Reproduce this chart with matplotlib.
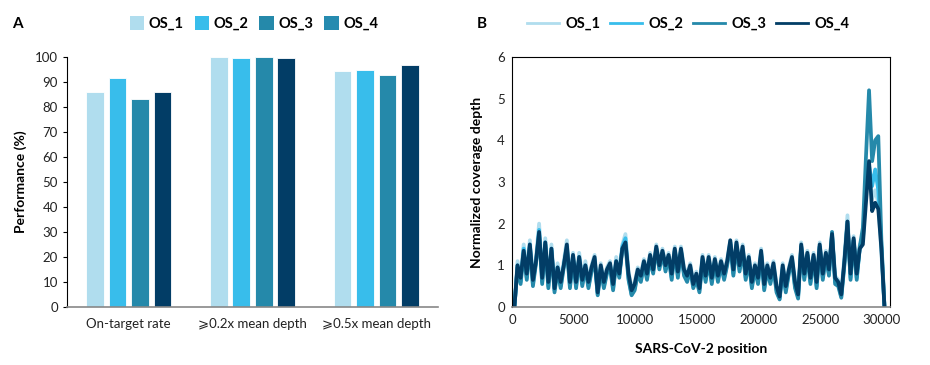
import matplotlib
matplotlib.use('Agg')
import matplotlib.pyplot as plt
from matplotlib.patches import Patch
from matplotlib.lines import Line2D
import numpy

# panel A data
categories = ['On-target rate', '\u2a7e0.2x mean depth', '\u2a7e0.5x mean depth']
samples = ['OS_1', 'OS_2', 'OS_3', 'OS_4']
os1_perf = [86.0, 99.8, 94.5]
os2_perf = [91.5, 99.7, 94.8]
os3_perf = [83.0, 99.8, 92.8]
os4_perf = [86.0, 99.7, 96.8]

positions = list(range(200, 30201, 250))
os1_depth = [0.0, 1.1, 0.75, 1.5, 0.85, 1.6, 0.7, 1.2, 2.0, 0.75,
             1.65, 0.65, 1.5, 0.5, 1.05, 0.65, 1.1, 1.6, 0.65, 1.3,
             0.65, 1.3, 0.7, 1.1, 0.65, 1.0, 1.25, 0.4, 1.05, 0.65,
             0.95, 1.1, 0.6, 1.2, 0.85, 1.5, 1.75, 0.85, 0.45, 0.6,
             0.95, 0.8, 1.15, 0.85, 1.3, 0.95, 1.5, 1.05, 1.4, 1.05,
             1.3, 0.85, 1.45, 0.9, 1.45, 0.95, 0.8, 1.05, 0.6, 0.85,
             0.5, 1.25, 0.8, 1.25, 0.75, 1.2, 0.8, 1.15, 0.85, 1.15,
             1.6, 0.95, 1.6, 1.05, 1.5, 0.85, 1.25, 0.65, 1.05, 0.75,
             1.4, 0.6, 1.05, 0.75, 1.1, 0.55, 0.3, 1.05, 0.55, 0.95,
             1.25, 0.65, 0.35, 1.55, 0.85, 1.35, 0.75, 1.3, 0.65, 1.55,
             0.85, 1.35, 0.95, 1.8, 0.75, 0.65, 0.35, 1.2, 2.2, 0.85,
             1.7, 0.85, 1.5, 1.6, 2.8, 3.2, 2.6, 2.8, 2.5, 1.3,
             0.0]
os2_depth = [0.0, 1.0, 0.6, 1.4, 0.7, 1.5, 0.55, 1.1, 1.85, 0.6,
             1.55, 0.5, 1.4, 0.4, 0.95, 0.5, 1.0, 1.45, 0.5, 1.2,
             0.5, 1.2, 0.55, 1.0, 0.5, 0.9, 1.15, 0.3, 0.95, 0.5,
             0.85, 1.0, 0.45, 1.1, 0.75, 1.45, 1.65, 0.7, 0.3, 0.45,
             0.85, 0.65, 1.05, 0.7, 1.2, 0.85, 1.4, 0.95, 1.3, 0.9,
             1.2, 0.7, 1.35, 0.75, 1.35, 0.8, 0.65, 0.95, 0.5, 0.7,
             0.4, 1.15, 0.65, 1.15, 0.6, 1.1, 0.65, 1.05, 0.7, 1.05,
             1.55, 0.8, 1.5, 0.9, 1.4, 0.7, 1.15, 0.5, 0.95, 0.6,
             1.3, 0.45, 0.95, 0.6, 1.0, 0.4, 0.2, 0.95, 0.4, 0.85,
             1.15, 0.5, 0.25, 1.45, 0.7, 1.25, 0.6, 1.2, 0.5, 1.45,
             0.7, 1.25, 0.8, 1.7, 0.6, 0.55, 0.25, 1.05, 2.0, 0.7,
             1.6, 0.7, 1.4, 1.6, 3.0, 3.4, 2.9, 3.3, 2.8, 1.5,
             0.0]
os3_depth = [0.0, 0.95, 0.55, 1.3, 0.65, 1.45, 0.5, 1.05, 1.75, 0.55,
             1.5, 0.45, 1.35, 0.35, 0.9, 0.45, 0.95, 1.4, 0.45, 1.15,
             0.45, 1.15, 0.5, 0.95, 0.45, 0.85, 1.1, 0.28, 0.9, 0.45,
             0.8, 0.95, 0.4, 1.05, 0.7, 1.4, 1.5, 0.65, 0.28, 0.4,
             0.8, 0.6, 1.0, 0.65, 1.15, 0.8, 1.4, 0.9, 1.3, 0.85,
             1.2, 0.65, 1.35, 0.7, 1.35, 0.75, 0.6, 0.9, 0.45, 0.65,
             0.35, 1.1, 0.6, 1.1, 0.55, 1.05, 0.6, 1.0, 0.65, 1.0,
             1.5, 0.75, 1.45, 0.85, 1.35, 0.65, 1.1, 0.45, 0.9, 0.55,
             1.25, 0.4, 0.9, 0.55, 0.95, 0.35, 0.18, 0.9, 0.35, 0.8,
             1.1, 0.45, 0.2, 1.45, 0.65, 1.25, 0.55, 1.2, 0.45, 1.45,
             0.65, 1.2, 0.75, 1.8, 0.55, 0.5, 0.22, 1.0, 2.05, 0.65,
             1.6, 0.65, 1.45, 1.9, 3.6, 5.2, 3.5, 4.0, 4.1, 1.6,
             0.0]
os4_depth = [0.0, 1.0, 0.7, 1.35, 0.8, 1.5, 0.65, 1.1, 1.8, 0.7,
             1.55, 0.6, 1.4, 0.45, 0.95, 0.6, 1.0, 1.5, 0.6, 1.25,
             0.6, 1.2, 0.65, 1.0, 0.6, 0.95, 1.2, 0.35, 1.0, 0.6,
             0.9, 1.05, 0.55, 1.1, 0.8, 1.4, 1.55, 0.8, 0.4, 0.55,
             0.9, 0.75, 1.1, 0.8, 1.25, 0.9, 1.45, 1.0, 1.35, 1.0,
             1.25, 0.8, 1.4, 0.85, 1.4, 0.9, 0.75, 1.0, 0.55, 0.8,
             0.45, 1.2, 0.75, 1.2, 0.7, 1.15, 0.75, 1.1, 0.8, 1.1,
             1.6, 0.9, 1.55, 1.0, 1.45, 0.8, 1.2, 0.6, 1.0, 0.7,
             1.35, 0.55, 1.0, 0.7, 1.05, 0.5, 0.25, 1.0, 0.5, 0.9,
             1.2, 0.6, 0.3, 1.5, 0.8, 1.3, 0.7, 1.25, 0.6, 1.5,
             0.8, 1.3, 0.9, 1.75, 0.7, 0.6, 0.3, 1.1, 2.05, 0.8,
             1.65, 0.8, 1.4, 1.5, 2.5, 3.5, 2.3, 2.5, 2.35, 1.4,
             0.0]

colors = ['#b0ddee', '#38bdeb', '#2589aa', '#023d66']

plt.rcParams['font.family'] = ['Lato', 'DejaVu Sans']
fig = plt.figure(figsize=(9.3, 3.65), dpi=100)

# ---- panel A
axA = fig.add_axes([0.072, 0.159, 0.399, 0.685])
x = numpy.arange(len(categories))
step = 0.182
width = 0.142
perf = [os1_perf, os2_perf, os3_perf, os4_perf]
for i in range(4):
   axA.bar(x + (i - 1.5) * step, perf[i], width, color=colors[i], edgecolor='white', linewidth=0.6)
axA.set_xlim(-0.5, 2.5)
axA.set_ylim(0, 100)
axA.set_yticks(numpy.arange(0, 101, 10))
axA.set_xticks(x)
axA.set_xticklabels(categories, fontsize=9.5, color='#222222')
axA.tick_params(axis='x', length=0, pad=8)
axA.tick_params(axis='y', length=3, labelsize=9.5, labelcolor='#222222', direction='out')
axA.spines['top'].set_visible(False)
axA.spines['right'].set_visible(False)
axA.spines['bottom'].set_color('#888888')
axA.spines['bottom'].set_linewidth(1.2)
axA.set_ylabel('Performance (%)', fontsize=10, fontweight='bold', labelpad=6)
# legend patch of OS_4 is teal in the original
leg_colors = ['#b0ddee', '#38bdeb', '#2589aa', '#268bb0']
handlesA = [Patch(facecolor=c, edgecolor='none') for c in leg_colors]
fig.legend(handlesA, samples, loc='center', bbox_to_anchor=(0.273, 0.935), ncol=4, frameon=False,
           prop={'weight': 'bold', 'size': 10.5}, handlelength=1.0, handleheight=1.0,
           handletextpad=0.3, columnspacing=0.75)
fig.text(0.013, 0.933, 'A', fontsize=11, fontweight='bold', va='center')

# ---- panel B
axB = fig.add_axes([0.5505, 0.159, 0.4065, 0.685])
depth = [os1_depth, os2_depth, os3_depth, os4_depth]
for i in range(4):
   axB.plot(positions, depth[i], color=colors[i], linewidth=2.7)
axB.set_xlim(0, 30650)
axB.set_ylim(0, 6)
axB.set_xticks(numpy.arange(0, 30001, 5000))
axB.set_yticks(numpy.arange(0, 7, 1))
axB.tick_params(axis='both', length=0, labelsize=9.5, labelcolor='#222222', pad=5)
axB.spines['bottom'].set_color('#888888')
axB.spines['bottom'].set_linewidth(1.2)
axB.set_xlabel('SARS-CoV-2 position', fontsize=10, fontweight='bold', labelpad=12)
axB.set_ylabel('Normalized coverage depth', fontsize=10, fontweight='bold', labelpad=10)
handlesB = [Line2D([0], [0], color=c, linewidth=2) for c in colors]
fig.legend(handlesB, samples, loc='center', bbox_to_anchor=(0.74, 0.935), ncol=4, frameon=False,
           prop={'weight': 'bold', 'size': 10.5}, handlelength=2.2,
           handletextpad=0.4, columnspacing=0.7)
fig.text(0.513, 0.933, 'B', fontsize=11, fontweight='bold', va='center')

plt.savefig('out.png', dpi=100)
